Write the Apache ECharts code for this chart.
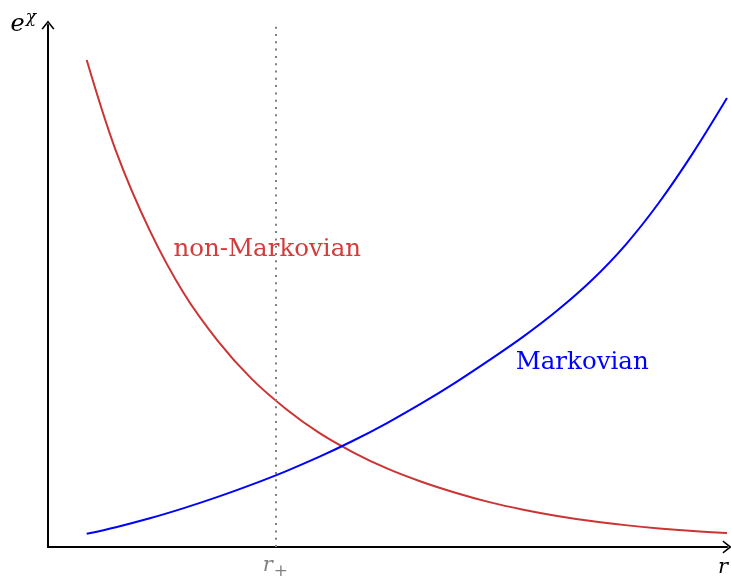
<!DOCTYPE html>
<html>
<head>
<meta charset="utf-8">
<script src="https://cdn.jsdelivr.net/npm/echarts@6/dist/echarts.min.js"></script>
<style>html,body{margin:0;padding:0;background:#fff}#c{width:731px;height:578px}</style>
</head>
<body>
<div id="c"></div>
<script>
// r values and e^chi values
const rValues = [0.57, 1.0, 1.5, 2.0, 2.5, 3.0, 3.5, 4.0, 4.5, 5.0, 5.5, 6.0, 6.5, 7.0, 7.5, 8.0, 8.5, 9.0, 9.5, 10.0];
const nonMarkovian = [9.33, 7.59, 6.06, 4.86, 3.95, 3.22, 2.65, 2.18, 1.81, 1.50, 1.25, 1.04, 0.86, 0.715, 0.595, 0.497, 0.419, 0.355, 0.305, 0.267];
const markovian = [0.254, 0.38, 0.55, 0.745, 0.96, 1.195, 1.45, 1.73, 2.04, 2.38, 2.75, 3.15, 3.58, 4.03, 4.53, 5.10, 5.78, 6.60, 7.55, 8.60];
const rPlus = 3.35;
const labelNonMarkov = { text: 'non-Markovian', x: 1.84, y: 5.69 };
const labelMarkov = { text: 'Markovian', x: 6.88, y: 3.53 };

const zip = (xs, ys) => xs.map((x, i) => [x, ys[i]]);
const arrow = 'path://M8,0 L16,10 L14.3,11 L8,3 L1.7,11 L0,10 Z';
const serif = '"DejaVu Serif", serif';

const chart = echarts.init(document.getElementById('c'), null, { renderer: 'canvas' });
chart.setOption({
  animation: false,
  backgroundColor: '#fff',
  grid: { left: 48, right: 4, top: 25, bottom: 29 },
  xAxis: {
    type: 'value', min: 0, max: 10,
    axisLine: { show: true, onZero: false, lineStyle: { color: '#000', width: 2 }, symbol: ['none', arrow], symbolSize: [15, 9] },
    axisTick: { show: false }, axisLabel: { show: false }, splitLine: { show: false },
    name: 'r', nameLocation: 'end', nameGap: -4,
    nameTextStyle: { fontFamily: serif, fontStyle: 'italic', fontSize: 21, color: '#000', align: 'center', verticalAlign: 'top', padding: [10, 0, 0, 0] }
  },
  yAxis: {
    type: 'value', min: 0, max: 10,
    axisLine: { show: true, lineStyle: { color: '#000', width: 2 }, symbol: ['none', arrow], symbolSize: [15, 9] },
    axisTick: { show: false }, axisLabel: { show: false }, splitLine: { show: false },
    name: '{e|e}{s|χ}', nameLocation: 'end', nameGap: 2,
    nameTextStyle: {
      fontFamily: serif, fontStyle: 'italic', fontSize: 24, color: '#000',
      align: 'right', verticalAlign: 'middle', padding: [0, 12, 0, 0],
      rich: {
        e: { fontFamily: serif, fontStyle: 'italic', fontSize: 24, color: '#000', verticalAlign: 'bottom' },
        s: { fontFamily: serif, fontStyle: 'italic', fontSize: 17, color: '#000', verticalAlign: 'bottom', padding: [0, 0, 10, 1] }
      }
    }
  },
  series: [
    {
      type: 'line', name: 'non-Markovian', data: zip(rValues, nonMarkovian), smooth: 0.35, showSymbol: false, clip: false,
      lineStyle: { color: '#cc3333', width: 2 },
      markLine: {
        silent: true, symbol: 'none',
        lineStyle: { color: '#808080', width: 2, type: [2, 5.3] },
        label: {
          show: true, position: 'start', distance: 8, formatter: '{r|r}{p|+}',
          rich: {
            r: { fontFamily: serif, fontStyle: 'italic', fontSize: 21, color: '#808080', verticalAlign: 'top' },
            p: { fontFamily: serif, fontSize: 17, color: '#808080', verticalAlign: 'top', padding: [8, 0, 0, 1] }
          }
        },
        data: [[{ coord: [rPlus, 0] }, { coord: [rPlus, 10] }]]
      },
      markPoint: {
        symbol: 'circle', symbolSize: 1, itemStyle: { color: 'rgba(0,0,0,0)' },
        label: { show: true, position: 'right', distance: 0, formatter: labelNonMarkov.text, fontFamily: serif, fontSize: 24.5, color: '#d23c3c' },
        data: [{ coord: [labelNonMarkov.x, labelNonMarkov.y] }]
      }
    },
    {
      type: 'line', name: 'Markovian', data: zip(rValues, markovian), smooth: 0.35, showSymbol: false, clip: false,
      lineStyle: { color: '#0000ff', width: 2 },
      markPoint: {
        symbol: 'circle', symbolSize: 1, itemStyle: { color: 'rgba(0,0,0,0)' },
        label: { show: true, position: 'right', distance: 0, formatter: labelMarkov.text, fontFamily: serif, fontSize: 24.5, color: '#0000ff' },
        data: [{ coord: [labelMarkov.x, labelMarkov.y] }]
      }
    }
  ]
});
</script>
</body>
</html>
